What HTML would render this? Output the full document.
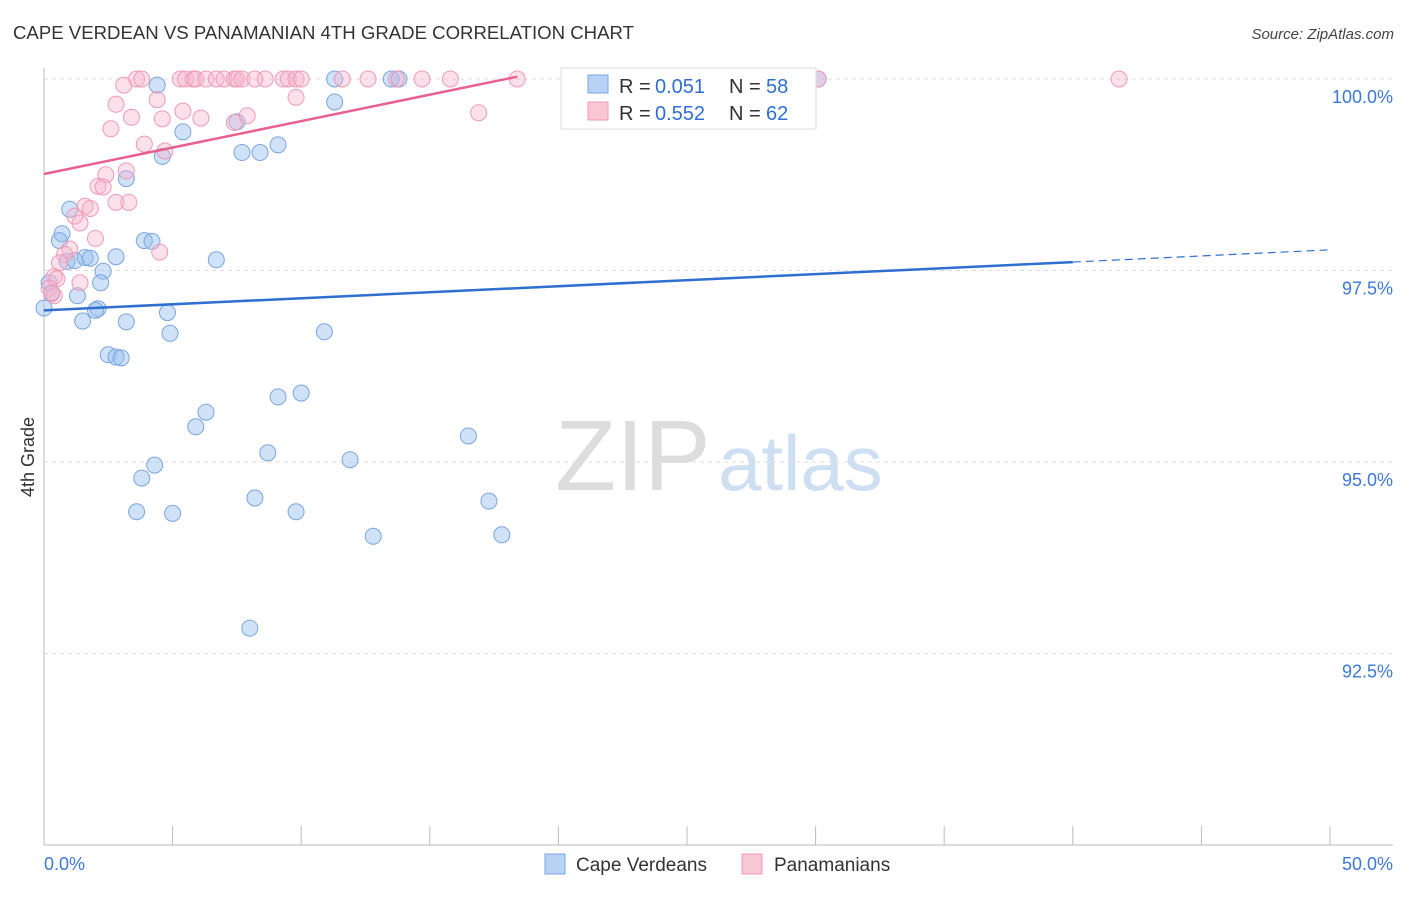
<!DOCTYPE html>
<html><head><meta charset="utf-8">
<style>
body{margin:0;background:#fff;font-family:"Liberation Sans",sans-serif;}
svg text{font-family:"Liberation Sans",sans-serif;}
</style></head>
<body>
<svg id="chart" width="1406" height="892" xmlns="http://www.w3.org/2000/svg">
<text x="13" y="39" font-size="18.6" fill="#333">CAPE VERDEAN VS PANAMANIAN 4TH GRADE CORRELATION CHART</text>
<text x="1394" y="39" font-size="15" fill="#444" text-anchor="end" font-style="italic">Source: ZipAtlas.com</text>
<g>
<text x="555" y="490" font-size="100" fill="#ddd" font-family="Liberation Serif,serif">ZIP</text>
<text x="718" y="490" font-size="78" fill="#cfdff2">atlas</text>
</g>
<g id="grid"></g>
<g id="axes"></g>
<g id="marks"></g>
<text transform="translate(34,457) rotate(-90)" font-size="18" fill="#333" text-anchor="middle">4th Grade</text>
<g>
<rect x="561" y="68" width="255" height="61" fill="#fff" stroke="#ddd"/>
<rect x="588" y="75" width="20" height="18" fill="#b8d2f5" stroke="#7aa5e0"/>
<text x="619" y="93" font-size="20" fill="#333">R =</text>
<text x="655" y="93" font-size="20" fill="#2f6fd0">0.051</text>
<text x="729" y="93" font-size="20" fill="#333">N =</text>
<text x="766" y="93" font-size="20" fill="#2f6fd0">58</text>
<rect x="588" y="102" width="20" height="18" fill="#f9c6d6" stroke="#ee9ab5"/>
<text x="619" y="120" font-size="20" fill="#333">R =</text>
<text x="655" y="120" font-size="20" fill="#2f6fd0">0.552</text>
<text x="729" y="120" font-size="20" fill="#333">N =</text>
<text x="766" y="120" font-size="20" fill="#2f6fd0">62</text>
</g>
<g>
<rect x="545" y="854" width="20" height="20" fill="#b8d2f5" stroke="#7aa5e0"/>
<text x="576" y="871" font-size="19" fill="#333">Cape Verdeans</text>
<rect x="742" y="854" width="20" height="20" fill="#f9c6d6" stroke="#ee9ab5"/>
<text x="774" y="871" font-size="19" fill="#333">Panamanians</text>
</g>
</svg>
<script>
const xTickLabels=["0.0%","50.0%"];
const yTicks=[100,97.5,95,92.5];
const yTickLabels=["100.0%","97.5%","95.0%","92.5%"];
const blueX=[4.4,11.3,13.5,13.8,30.1,11.3,5.4,7.5,9.1,7.7,8.4,4.6,3.2,1.0,0.7,0.6,3.9,4.2,2.8,6.7,0.9,1.2,1.6,1.8,2.3,2.2,0.2,1.3,0.3,0.0,2.1,2.0,4.8,1.5,3.2,4.9,10.9,2.5,2.8,3.0,9.1,10.0,6.3,5.9,16.5,4.3,11.9,8.7,3.8,8.2,17.3,3.6,5.0,9.8,12.8,17.8,8.0];
const blueY=[99.92,100,100,100,100,99.7,99.31,99.44,99.14,99.04,99.04,98.99,98.70,98.30,97.98,97.89,97.89,97.88,97.68,97.64,97.62,97.63,97.67,97.66,97.49,97.34,97.34,97.17,97.20,97.01,97.00,96.98,96.95,96.84,96.83,96.68,96.70,96.40,96.37,96.36,95.85,95.90,95.65,95.46,95.34,94.96,95.03,95.12,94.79,94.53,94.49,94.35,94.33,94.35,94.03,94.05,92.83];
const pinkX=[3.6,3.8,5.3,5.5,5.8,5.9,6.3,6.7,7.0,7.4,7.5,7.7,8.2,8.6,9.3,9.5,9.8,10.0,11.6,12.6,13.7,14.7,15.8,18.4,23.1,30.1,41.8,3.1,4.4,2.8,9.8,5.4,16.9,3.4,4.6,6.1,7.9,7.4,2.6,3.9,4.7,3.2,2.4,2.1,2.3,2.8,3.3,1.6,1.8,1.2,1.4,2.0,4.5,1.0,0.8,0.6,0.4,0.5,1.4,0.2,0.4,0.3];
const pinkY=[100,100,100,100,100,100,100,100,100,100,100,100,100,100,100,100,100,100,100,100,100,100,100,100,100,100,100,99.92,99.73,99.67,99.76,99.58,99.56,99.50,99.48,99.49,99.52,99.43,99.35,99.15,99.06,98.80,98.75,98.60,98.59,98.39,98.39,98.34,98.31,98.21,98.12,97.92,97.74,97.78,97.71,97.60,97.42,97.39,97.34,97.27,97.17,97.21];
const blueFit=[0,96.98,40,97.61,50,97.77];
const pinkFit=[0,98.76,18.4,100.03];
const X=v=>44+v*(1286/50);
const Y=v=>79+(100-v)*(191.5/2.5);
const NS="http://www.w3.org/2000/svg";
function mk(tag,attrs,parent){const e=document.createElementNS(NS,tag);for(const k in attrs)e.setAttribute(k,attrs[k]);document.getElementById(parent).appendChild(e);return e;}
yTicks.forEach((t,i)=>{
 const g=mk('line',{x1:44,x2:1393,y1:Y(t),y2:Y(t),stroke:'#ddd','stroke-dasharray':'4,4'},'grid');
 
 
 const l=mk('text',{x:1393,y:Y(t)+24,'font-size':18,fill:'#3b78d8','text-anchor':'end'},'axes');
 l.textContent=yTickLabels[i];
 
 
});
const ax=mk('line',{x1:44,x2:1393,y1:845,y2:845,stroke:'#bbb'},'axes');


const ay=mk('line',{x1:44,x2:44,y1:68,y2:845,stroke:'#bbb'},'axes');


for(let i=0;i<=10;i++){
 const t=mk('line',{x1:X(i*5),x2:X(i*5),y1:826,y2:845,stroke:'#bbb'},'axes');
 
 
}
const xl0=mk('text',{x:44,y:870,'font-size':18,fill:'#3b78d8'},'axes');xl0.textContent=xTickLabels[0];


const xl1=mk('text',{x:1393,y:870,'font-size':18,fill:'#3b78d8','text-anchor':'end'},'axes');xl1.textContent=xTickLabels[1];


blueX.forEach((v,i)=>{
 const c=mk('circle',{cx:X(v),cy:Y(blueY[i]),r:8,fill:'rgba(150,190,240,0.45)',stroke:'#7aa5e0','stroke-width':1},'marks');
 
 
});
pinkX.forEach((v,i)=>{
 const c=mk('circle',{cx:X(v),cy:Y(pinkY[i]),r:8,fill:'rgba(248,180,205,0.4)',stroke:'#ee9ab5','stroke-width':1},'marks');
 
 
});
const bl=mk('line',{x1:X(blueFit[0]),y1:Y(blueFit[1]),x2:X(blueFit[2]),y2:Y(blueFit[3]),stroke:'#2f6fd0','stroke-width':2.5},'marks');


const bd=mk('line',{x1:X(blueFit[2]),y1:Y(blueFit[3]),x2:X(blueFit[4]),y2:Y(blueFit[5]),stroke:'#2f6fd0','stroke-width':1.2,'stroke-dasharray':'8,5'},'marks');


const pl=mk('line',{x1:X(pinkFit[0]),y1:Y(pinkFit[1]),x2:X(pinkFit[2]),y2:Y(pinkFit[3]),stroke:'#e8608e','stroke-width':2.5},'marks');


</script>
</body></html>
